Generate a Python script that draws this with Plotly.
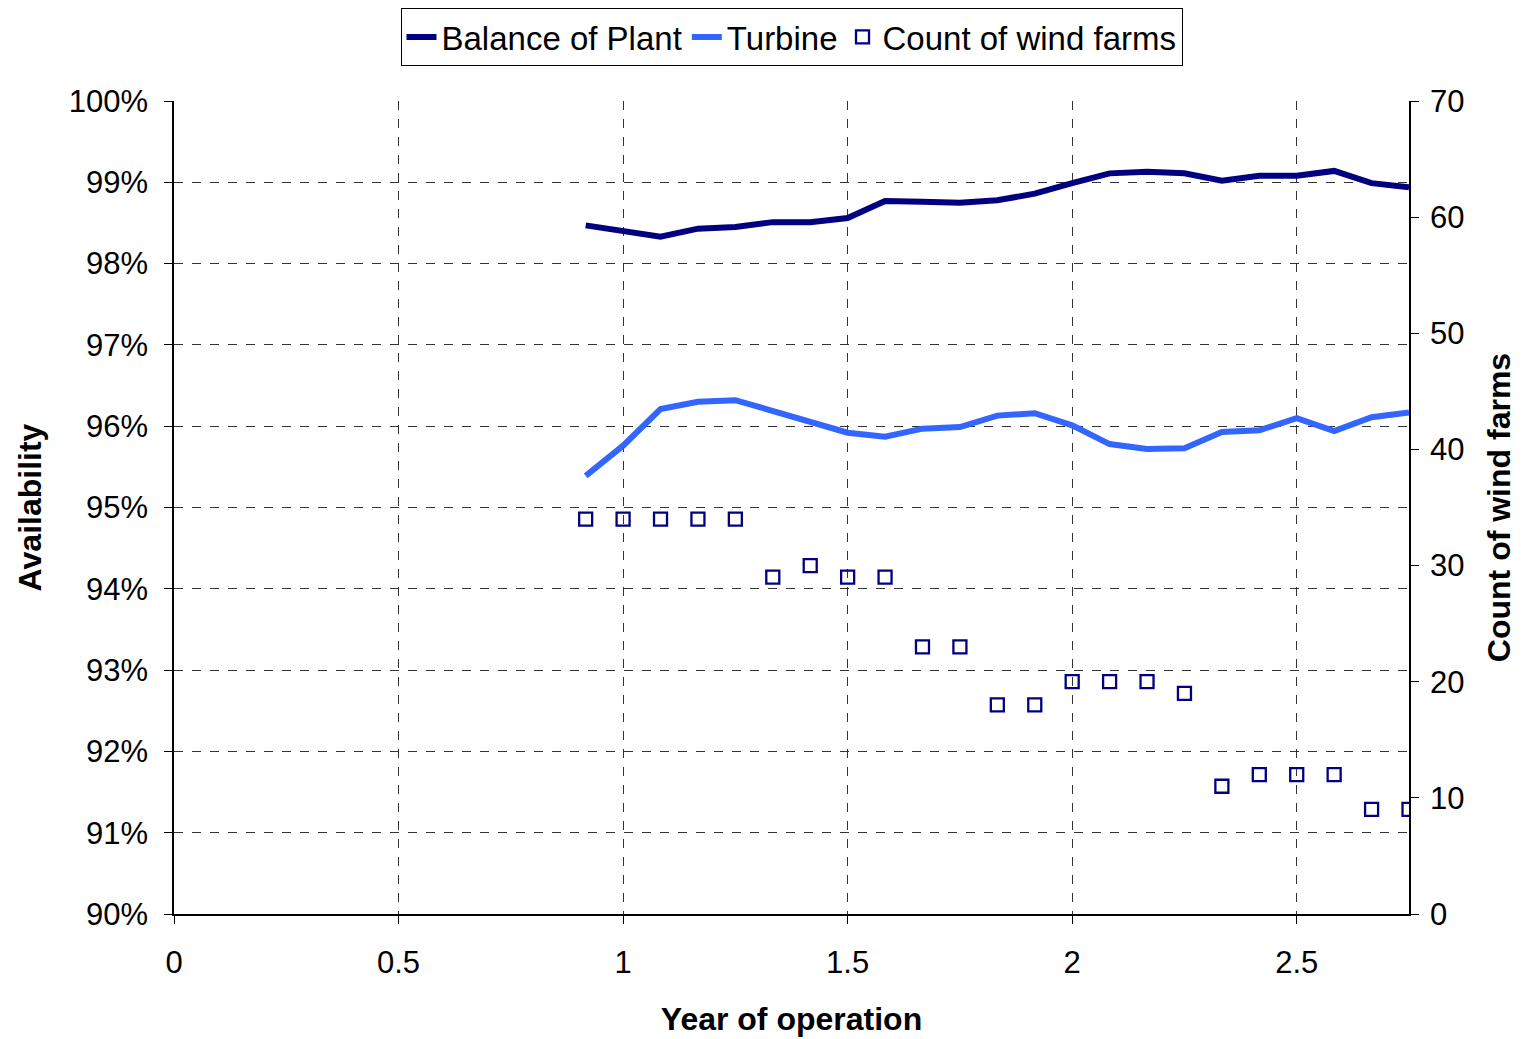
import plotly.graph_objects as go

# month index 11..33 -> year of operation
MONTHS = list(range(11, 34))
YEARS = [m / 12 for m in MONTHS]

BALANCE_OF_PLANT = [98.47, 98.40, 98.33, 98.43, 98.45, 98.51, 98.51, 98.56, 98.77, 98.76,
                    98.75, 98.78, 98.86, 98.99, 99.11, 99.13, 99.11, 99.02, 99.08, 99.08,
                    99.14, 98.99, 98.94]
TURBINE = [95.39, 95.76, 96.21, 96.30, 96.32, 96.19, 96.05, 95.92, 95.87, 95.97,
           95.99, 96.13, 96.16, 96.01, 95.78, 95.72, 95.73, 95.93, 95.95, 96.10,
           95.94, 96.11, 96.17]
WIND_FARM_COUNT = [34, 34, 34, 34, 34, 29, 30, 29, 29, 23,
                   23, 18, 18, 20, 20, 20, 19, 11, 12, 12,
                   12, 9, 9]

NAVY = "#000080"
BLUE = "#3366FF"
FONT = "Liberation Sans, Arial, sans-serif"

fig = go.Figure()
fig.add_trace(go.Scatter(
    x=YEARS, y=BALANCE_OF_PLANT, mode="lines", name="Balance of Plant",
    line={"color": NAVY, "width": 6},
))
fig.add_trace(go.Scatter(
    x=YEARS, y=TURBINE, mode="lines", name="Turbine",
    line={"color": BLUE, "width": 6},
))
fig.add_trace(go.Scatter(
    x=YEARS, y=WIND_FARM_COUNT, mode="markers", name="Count of wind farms",
    yaxis="y2",
    marker={"symbol": "square-open", "size": 13, "color": NAVY, "line": {"width": 2.3, "color": NAVY}},
))

axis_common = dict(
    showline=True, linecolor="black", linewidth=1.5,
    ticks="outside", ticklen=8, tickcolor="black",
    tickfont={"size": 31, "color": "black", "family": FONT},
    zeroline=False,
)

fig.update_layout(
    width=1514, height=1031, autosize=False,
    paper_bgcolor="white", plot_bgcolor="white",
    margin={"l": 166, "r": 113, "t": 93, "b": 125, "autoexpand": False},
    font={"family": FONT, "color": "black"},
    showlegend=True,
    legend={
        "orientation": "h", "x": 0.5, "xanchor": "center",
        "yref": "container", "y": 1.0, "yanchor": "top",
        "bordercolor": "black", "borderwidth": 1, "bgcolor": "white",
        "font": {"size": 33, "family": FONT},
        "itemwidth": 30, "tracegroupgap": 0,
    },
    xaxis=dict(
        axis_common, range=[0, 2.75], dtick=0.5, tick0=0, ticklabelstandoff=12,
        showgrid=True, gridcolor="#333333", griddash="dash", gridwidth=1,
        title={"text": "<b>Year of operation</b>", "font": {"size": 32}, "standoff": 29},
    ),
    yaxis=dict(
        axis_common, range=[90, 100], dtick=1, ticksuffix="%", ticklabelstandoff=10,
        showgrid=True, gridcolor="#333333", griddash="dash", gridwidth=1,
        title={"text": "<b>Availability</b>", "font": {"size": 32}, "standoff": 18},
    ),
    yaxis2=dict(
        axis_common, range=[0, 70], dtick=10, overlaying="y", side="right",
        ticklabelstandoff=5, showgrid=False,
        title={"text": "<b>Count of wind farms</b>", "font": {"size": 32}, "standoff": 24},
    ),
)

fig.write_html("out.html")
